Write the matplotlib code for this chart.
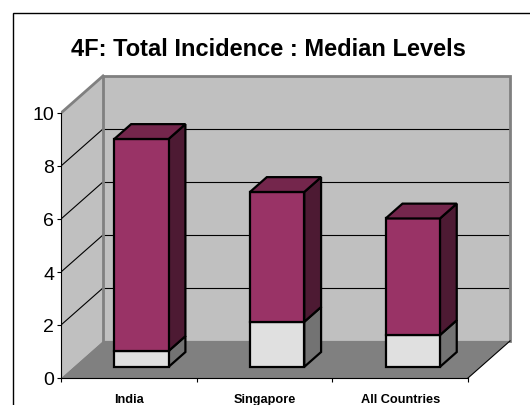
import matplotlib
matplotlib.use('Agg')
from matplotlib import pyplot as plt
from matplotlib.patches import Polygon, Rectangle

plt.rcParams['font.family'] = ['Liberation Sans', 'DejaVu Sans']

# Chart values
categories = ['India', 'Singapore', 'All Countries']
lower = [0.6, 1.7, 1.2]
upper = [8.0, 4.9, 4.4]
y_ticks = [0, 2, 4, 6, 8, 10]
title = '4F: Total Incidence : Median Levels'

# Oblique depth offset (in data units) and bar placement inside the depth
DX, DY = 0.31, 1.40
D0, D1 = 0.30, 0.70
BAR_W = 0.40

WALL = '#c0c0c0'
FLOOR = '#808080'
EDGE = '#808080'


def proj(x, y, d):
    return (x + d * DX, y + d * DY)


def face(ax, pts, color, z, lw=1.6, ec='black'):
    ax.add_patch(Polygon(pts, closed=True, facecolor=color, edgecolor=ec,
                         linewidth=lw, joinstyle='miter', zorder=z, clip_on=False))


def draw_box(ax, xc, y0, y1, front, side, top, z):
    xl, xr = xc - BAR_W / 2, xc + BAR_W / 2
    face(ax, [proj(xr, y0, D0), proj(xr, y0, D1), proj(xr, y1, D1), proj(xr, y1, D0)], side, z)
    face(ax, [proj(xl, y0, D0), proj(xr, y0, D0), proj(xr, y1, D0), proj(xl, y1, D0)], front, z + 0.1)
    if top:
        face(ax, [proj(xl, y1, D0), proj(xr, y1, D0), proj(xr, y1, D1), proj(xl, y1, D1)], top, z + 0.2)


fig = plt.figure(figsize=(5.3, 4.06), dpi=100)
ax = fig.add_axes([61 / 530, 27 / 406, 454 / 530, 309 / 406])
ax.set_xlim(0, 454 / 135.67)
ax.set_ylim(0, 309 / 26.5)
ax.patch.set_visible(False)

n = len(categories)
ymax = y_ticks[-1]

# walls and floor
face(ax, [(0, 0), proj(0, 0, 1), proj(0, ymax, 1), (0, ymax)], WALL, 1, lw=0)
face(ax, [proj(0, 0, 1), proj(n, 0, 1), proj(n, ymax, 1), proj(0, ymax, 1)], WALL, 1, lw=0)
face(ax, [(0, 0), (n, 0), proj(n, 0, 1), proj(0, 0, 1)], FLOOR, 1.1, lw=0)

for v in y_ticks[1:-1]:
    ax.plot([0, DX], [v, v + DY], color='black', lw=0.8, zorder=2)
    ax.plot([DX, n + DX], [v + DY, v + DY], color='black', lw=0.8, zorder=2)

# wall outlines
ax.plot([DX, DX, n + DX, n + DX], [DY, ymax + DY, ymax + DY, DY], color=EDGE, lw=2, zorder=2.5,
        solid_joinstyle='miter')
ax.plot([0, DX], [ymax, ymax + DY], color=EDGE, lw=2, zorder=2.5)
ax.plot([n, n + DX], [0, DY], color='black', lw=0.8, zorder=2.5)

# stacked boxes
for i in range(n):
    xc = i + 0.5
    draw_box(ax, xc, 0, lower[i], '#e0e0e0', '#737373', None, 3 + i)
    draw_box(ax, xc, lower[i], lower[i] + upper[i], '#993366', '#4d1a33', '#74264c', 3.5 + i)

# axes
for s in ['top', 'right']:
    ax.spines[s].set_visible(False)
ax.spines['left'].set_bounds(0, ymax)
ax.spines['bottom'].set_bounds(0, n)
ax.spines['left'].set_zorder(10)
ax.spines['bottom'].set_zorder(10)
ax.set_yticks(y_ticks)
ax.set_yticklabels([str(v) for v in y_ticks], fontsize=14)
ax.set_xticks(range(n + 1))
ax.set_xticklabels([''] * (n + 1))
ax.set_xticks([i + 0.5 for i in range(n)], minor=True)
ax.set_xticklabels(categories, minor=True, fontsize=9.2, fontweight='bold')
ax.tick_params(axis='y', direction='out', length=3, width=0.8, pad=2)
ax.tick_params(axis='x', which='major', direction='out', length=3, width=0.8)
ax.tick_params(axis='x', which='minor', length=0, pad=10.5)

fig.text(268 / 530, 1 - 49 / 406, title, ha='center', va='center', fontsize=17, fontweight='bold')

# chart border
fig.patches.append(Rectangle((13 / 530, -0.1), 1.2, 1 - 14 / 406 + 0.1, transform=fig.transFigure,
                             fill=False, edgecolor='black', linewidth=1))

fig.savefig('out.png', dpi=100, facecolor='white')
